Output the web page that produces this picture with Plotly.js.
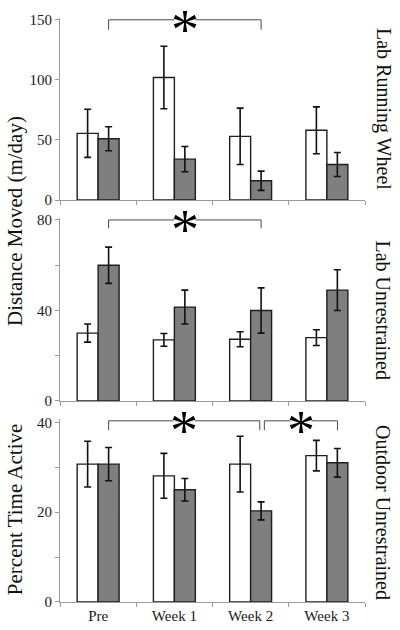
<!DOCTYPE html>
<html>
<head>
<meta charset="utf-8">
<script src="https://cdn.plot.ly/plotly-3.0.1.min.js"></script>
<style>html,body{margin:0;padding:0;background:#fff;}#chart{width:400px;height:630px;}</style>
</head>
<body>
<div id="chart"></div>
<script>
// ---- data ----
var categories = ['Pre', 'Week 1', 'Week 2', 'Week 3'];

var wheelWhite    = [55.5, 102, 53, 58];
var wheelWhiteErr = [20, 26, 23.5, 19.5];
var wheelGray     = [51, 34, 16, 29.5];
var wheelGrayErr  = [10, 10.5, 8, 10];

var labWhite    = [30, 27, 27.3, 28];
var labWhiteErr = [4, 2.8, 3.3, 3.5];
var labGray     = [60, 41.5, 40, 49];
var labGrayErr  = [8, 7.5, 10, 9];

var outWhite    = [30.7, 28.1, 30.7, 32.6];
var outWhiteErr = [5.1, 5, 6.2, 3.4];
var outGray     = [30.7, 25, 20.3, 31];
var outGrayErr  = [3.7, 2.5, 2, 3.2];

var wheelTicks = [0, 50, 100, 150];
var wheelTickText = ['0', '50', '100', '150'];
var labTicks = [0, 20, 40, 60, 80];
var labTickText = ['0', '', '40', '', '80'];
var outTicks = [0, 10, 20, 30, 40];
var outTickText = ['0', '', '20', '', '40'];

var panelTitles = ['Lab Running Wheel', 'Lab Unrestrained', 'Outdoor Unrestrained'];
var yTitleDistance = 'Distance Moved (m/day)';
var yTitlePercent = 'Percent Time Active';

// significance brackets: [panel, from category offset, to category offset, level, drop]
var sigBrackets = [
  [1, 0.1375, 2.1375, 150, 8.3],
  [2, 0.1375, 2.1375, 80, 3.7],
  [3, 0.1375, 2.12, 40.35, 2.1],
  [3, 2.18, 3.14, 40.35, 2.1]
];

// ---- build ----
var FONT = 'Liberation Serif';
var GRAYFILL = '#7f7f7f';
var OUTLINE = '#1e1e1e';

function pair(xa, ya, w, we, g, ge) {
  return [
    {type: 'bar', x: categories, y: w, xaxis: xa, yaxis: ya, name: 'white',
     marker: {color: '#ffffff', line: {color: OUTLINE, width: 1.4}},
     error_y: {type: 'data', array: we, visible: true, color: '#111', thickness: 1.6, width: 3.5},
     showlegend: false, hoverinfo: 'skip'},
    {type: 'bar', x: categories, y: g, xaxis: xa, yaxis: ya, name: 'gray',
     marker: {color: GRAYFILL, line: {color: OUTLINE, width: 1.4}},
     error_y: {type: 'data', array: ge, visible: true, color: '#111', thickness: 1.6, width: 3.5},
     showlegend: false, hoverinfo: 'skip'}
  ];
}

var data = [].concat(
  pair('x', 'y', wheelWhite, wheelWhiteErr, wheelGray, wheelGrayErr),
  pair('x2', 'y2', labWhite, labWhiteErr, labGray, labGrayErr),
  pair('x3', 'y3', outWhite, outWhiteErr, outGray, outGrayErr)
);

function xax(anchor, showLabels) {
  return {
    anchor: anchor, type: 'category', range: [-0.5, 3.5],
    showline: true, linecolor: '#9a9a9a', linewidth: 1,
    ticks: 'outside', tickson: 'boundaries', ticklen: 4, tickcolor: '#9a9a9a',
    showgrid: false, zeroline: false, showticklabels: showLabels,
    tickfont: {family: FONT, size: 15, color: '#1a1a1a'}
  };
}
function yax(anchor, domain, range, tv, tt) {
  return {
    anchor: anchor, domain: domain, range: range,
    tickmode: 'array', tickvals: tv, ticktext: tt,
    showline: true, linecolor: '#9a9a9a', linewidth: 1,
    ticks: 'outside', ticklen: 4, tickcolor: '#9a9a9a',
    showgrid: false, zeroline: false,
    tickfont: {family: FONT, size: 15, color: '#1a1a1a'}
  };
}

var shapes = [];
var annotations = [];
var astHalf = 0.14;
sigBrackets.forEach(function (b) {
  var xr = b[0] === 1 ? 'x' : 'x' + b[0];
  var yr = b[0] === 1 ? 'y' : 'y' + b[0];
  var mid = (b[1] + b[2]) / 2;
  var ln = {color: '#4a4a4a', width: 1};
  shapes.push({type: 'line', xref: xr, yref: yr, x0: b[1], x1: b[1], y0: b[3] - b[4], y1: b[3], line: ln});
  shapes.push({type: 'line', xref: xr, yref: yr, x0: b[2], x1: b[2], y0: b[3] - b[4], y1: b[3], line: ln});
  shapes.push({type: 'line', xref: xr, yref: yr, x0: b[1], x1: mid - astHalf, y0: b[3], y1: b[3], line: ln});
  shapes.push({type: 'line', xref: xr, yref: yr, x0: mid + astHalf, x1: b[2], y0: b[3], y1: b[3], line: ln});
  annotations.push({xref: xr, yref: yr, x: mid, y: b[3], text: '*', showarrow: false,
    xanchor: 'center', yanchor: 'middle', yshift: -10,
    font: {family: FONT, size: 56, color: '#000'}});
});

var rightY = [0.8442, 0.4991, 0.1524];
panelTitles.forEach(function (t, i) {
  annotations.push({xref: 'paper', yref: 'paper', x: 1.059, y: rightY[i], text: t,
    textangle: 90, showarrow: false, xanchor: 'center', yanchor: 'middle',
    font: {family: FONT, size: 20, color: '#111'}});
});
annotations.push({xref: 'paper', yref: 'paper', x: -0.1475, y: 0.6524, text: yTitleDistance,
  textangle: -90, showarrow: false, xanchor: 'center', yanchor: 'middle',
  font: {family: FONT, size: 21, color: '#111'}});
annotations.push({xref: 'paper', yref: 'paper', x: -0.1475, y: 0.159, text: yTitlePercent,
  textangle: -90, showarrow: false, xanchor: 'center', yanchor: 'middle',
  font: {family: FONT, size: 21, color: '#111'}});

var layout = {
  width: 400, height: 630,
  margin: {l: 60, r: 35, t: 18, b: 28},
  paper_bgcolor: '#fff', plot_bgcolor: '#fff',
  barmode: 'group', bargap: 0.45, bargroupgap: 0,
  font: {family: FONT},
  xaxis: xax('y', false),
  xaxis2: xax('y2', false),
  xaxis3: xax('y3', true),
  yaxis: yax('x', [0.68836, 1], [0, 151.5], wheelTicks, wheelTickText),
  yaxis2: yax('x2', [0.34418, 0.65805], [0, 81], labTicks, labTickText),
  yaxis3: yax('x3', [0, 0.3137], [0, 40.8], outTicks, outTickText),
  shapes: shapes,
  annotations: annotations
};

Plotly.newPlot('chart', data, layout, {staticPlot: true, displayModeBar: false});
</script>
</body>
</html>
